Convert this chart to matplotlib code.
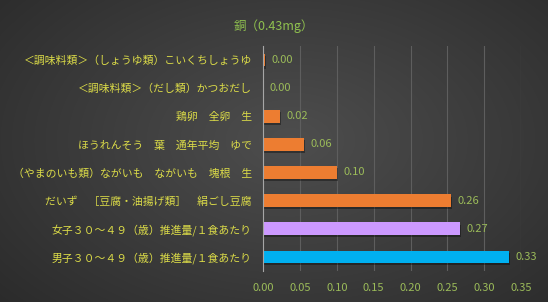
import numpy as np
import matplotlib.pyplot as plt

plt.rcParams['font.family'] = ['Noto Sans CJK JP', 'DejaVu Sans']

title = '銅（0.43mg）'
categories = [
    '＜調味料類＞（しょうゆ類）こいくちしょうゆ',
    '＜調味料類＞（だし類）かつおだし',
    '鶏卵　全卵　生',
    'ほうれんそう　葉　通年平均　ゆで',
    '（やまのいも類）ながいも　ながいも　塊根　生',
    'だいず　［豆腐・油揚げ類］　絹ごし豆腐',
    '女子３０～４９（歳）推進量/１食あたり',
    '男子３０～４９（歳）推進量/１食あたり',
]
values = [0.002, 0.0, 0.023, 0.056, 0.100, 0.255, 0.267, 0.333]
value_labels = ['0.00', '0.00', '0.02', '0.06', '0.10', '0.26', '0.27', '0.33']
bar_colors = ['#ED7D31'] * 6 + ['#CC99FF', '#00B0F0']
xticks = [0, 0.05, 0.10, 0.15, 0.20, 0.25, 0.30, 0.35]

fig = plt.figure(figsize=(5.48, 3.02), dpi=100)

# radial gradient background
bg = fig.add_axes([0, 0, 1, 1], zorder=-10)
yy, xx = np.mgrid[0:302, 0:548]
r = np.sqrt(((xx - 290) / 430.0) ** 2 + ((yy - 140) / 270.0) ** 2)
shade = np.clip(0.305 - 0.15 * r, 0.16, 0.305)
bg.imshow(np.dstack([shade] * 3), aspect='auto', extent=[0, 1, 0, 1])
bg.axis('off')

ax = fig.add_axes([0.48, 0.103, 0.471, 0.745])
ax.patch.set_alpha(0)
pos = np.arange(len(categories))

# shadows
ax.barh(pos + 0.08, values, height=0.45, left=0.0015, color='black', alpha=0.35, zorder=2)
ax.barh(pos, values, height=0.45, color=bar_colors, zorder=3)

for p, v, lab in zip(pos, values, value_labels):
    ax.text(v + 0.009, p, lab, va='center', ha='left', fontsize=8,
            color='#9BBB59', zorder=4)

ax.set_xlim(0, 0.35)
ax.set_ylim(len(categories) - 0.5, -0.5)
ax.set_xticks(xticks)
ax.set_xticklabels(['%.2f' % t for t in xticks])
ax.set_yticks(pos)
ax.set_yticklabels(categories)
ax.tick_params(axis='x', colors='#9BBB59', labelsize=8, length=0, pad=9)
ax.tick_params(axis='y', colors='#DCDC48', labelsize=7.8, length=0, pad=8)

ax.grid(axis='x', color='#5E5E5E', linewidth=0.8, zorder=0)
for s in ['top', 'right', 'bottom']:
    ax.spines[s].set_visible(False)
ax.spines['left'].set_color('#A6A6A6')
ax.spines['left'].set_zorder(5)

fig.text(0.5, 0.912, title, ha='center', va='center', fontsize=9,
         color='#8FC04F')

fig.savefig('out.png', dpi=100)
